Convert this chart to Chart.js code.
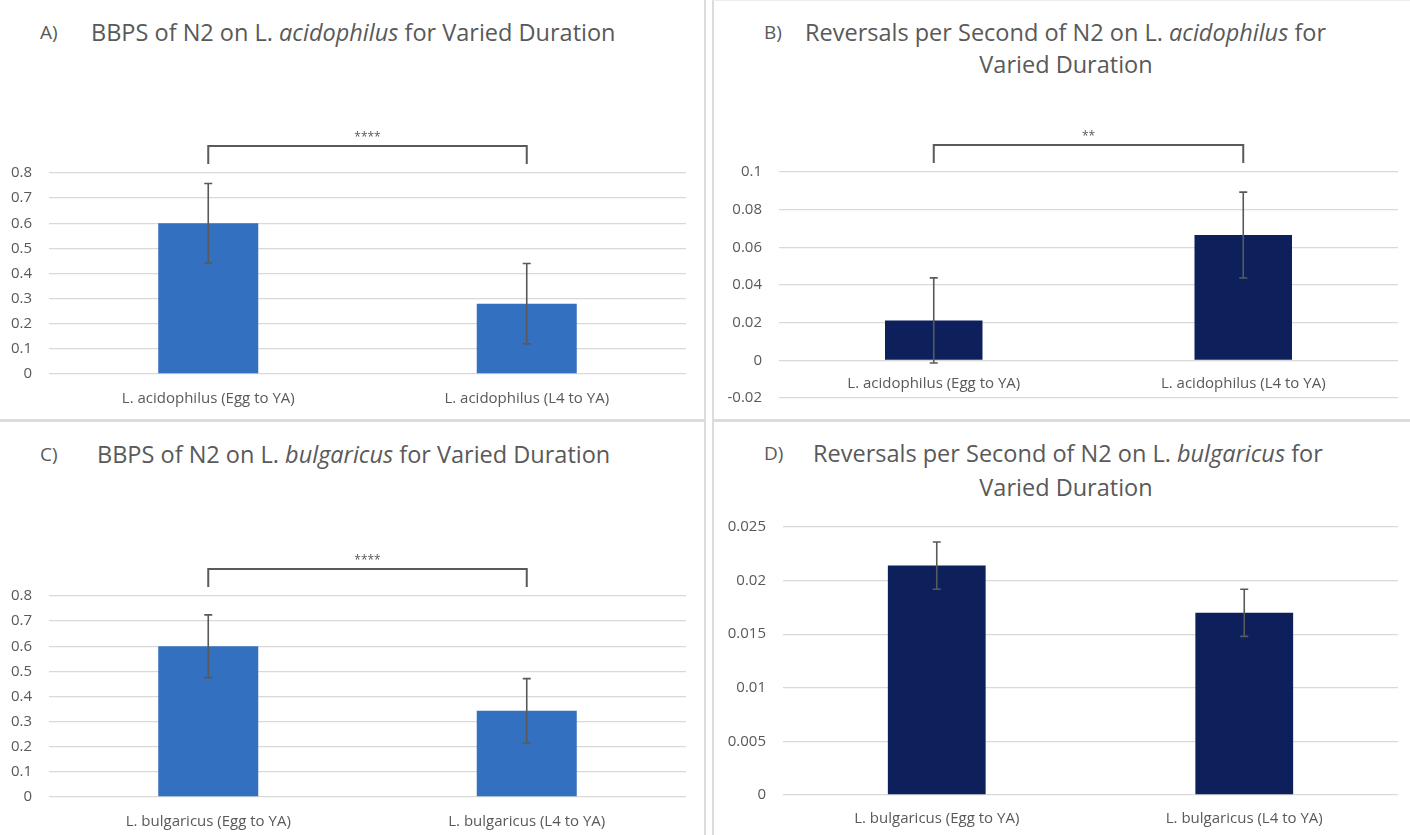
<!DOCTYPE html>
<html>
<head>
<meta charset="utf-8">
<script src="https://cdn.jsdelivr.net/npm/chart.js@4.4.1/dist/chart.umd.min.js"></script>
<style>
  html, body { margin: 0; padding: 0; background: #fff; }
  body { width: 1410px; height: 835px; position: relative; overflow: hidden; font-family: "Open Sans", Lato, sans-serif; }
  .box { position: absolute; }
  .lbl { position: absolute; color: #595959; font-size: 19px; line-height: 24px; white-space: nowrap; transform: translateY(-50%); }
  .ttl { position: absolute; color: #595959; font-size: 23.5px; line-height: 28px; white-space: nowrap; transform: translateY(-50%); }
  .ctr { transform: translate(-50%, -50%); }
  .sep { position: absolute; background: #dcdcdc; }
</style>
</head>
<body>
<!-- panel separators -->
<div class="sep" style="left:704px; top:0; width:2px; height:835px;"></div>
<div class="sep" style="left:712px; top:0; width:2px; height:835px;"></div>
<div class="sep" style="left:0; top:419px; width:705px; height:3px;"></div>
<div class="sep" style="left:713px; top:419px; width:697px; height:3px;"></div>
<div class="sep" style="left:713px; top:0; width:697px; height:1px; background:#ececec;"></div>

<!-- titles -->
<div class="lbl" style="left:40px; top:32px;">A)</div>
<div class="ttl" style="left:91px; top:32px;">BBPS of N2 on L. <i>acidophilus</i> for Varied Duration</div>

<div class="lbl" style="left:764px; top:32px;">B)</div>
<div class="ttl" style="left:805px; top:32px;">Reversals per Second of N2 on L. <i>acidophilus</i> for</div>
<div class="ttl ctr" style="left:1066px; top:64px;">Varied Duration</div>

<div class="lbl" style="left:40px; top:454px;">C)</div>
<div class="ttl" style="left:97px; top:454px;">BBPS of N2 on L. <i>bulgaricus</i> for Varied Duration</div>

<div class="lbl" style="left:764px; top:453px;">D)</div>
<div class="ttl" style="left:813px; top:453px;">Reversals per Second of N2 on L. <i>bulgaricus</i> for</div>
<div class="ttl ctr" style="left:1066px; top:487px;">Varied Duration</div>

<div class="box" style="left:0; top:100px; width:705px; height:315px;"><canvas id="cA"></canvas></div>
<div class="box" style="left:714px; top:100px; width:696px; height:324px;"><canvas id="cB"></canvas></div>
<div class="box" style="left:0; top:520px; width:705px; height:315px;"><canvas id="cC"></canvas></div>
<div class="box" style="left:714px; top:500px; width:696px; height:335px;"><canvas id="cD"></canvas></div>

<script>
// ---------------- DATA ----------------
const categoriesA = ["L. acidophilus (Egg to YA)", "L. acidophilus (L4 to YA)"];
const valuesA = [0.600, 0.280];
const errorsA = [0.158, 0.160];
const ticksA = [0, 0.1, 0.2, 0.3, 0.4, 0.5, 0.6, 0.7, 0.8];
const sigA = "****";

const categoriesB = ["L. acidophilus (Egg to YA)", "L. acidophilus (L4 to YA)"];
const valuesB = [0.0212, 0.0665];
const errorsB = [0.0226, 0.0228];
const ticksB = [-0.02, 0, 0.02, 0.04, 0.06, 0.08, 0.1];
const sigB = "**";

const categoriesC = ["L. bulgaricus (Egg to YA)", "L. bulgaricus (L4 to YA)"];
const valuesC = [0.600, 0.343];
const errorsC = [0.125, 0.128];
const ticksC = [0, 0.1, 0.2, 0.3, 0.4, 0.5, 0.6, 0.7, 0.8];
const sigC = "****";

const categoriesD = ["L. bulgaricus (Egg to YA)", "L. bulgaricus (L4 to YA)"];
const valuesD = [0.0214, 0.0170];
const errorsD = [0.0022, 0.0022];
const ticksD = [0, 0.005, 0.01, 0.015, 0.02, 0.025];

// ---------------- STYLE ----------------
const BLUE = "#3370c0";
const NAVY = "#0d205c";
const GRID = "#d9d9d9";
const TEXT = "#595959";
const ERR = "#595959";
const FONT = "'Open Sans', Lato, sans-serif";

const errorBarPlugin = {
  id: "errorBars",
  afterDatasetsDraw(chart, args, opts) {
    const meta = chart.getDatasetMeta(0);
    const ys = chart.scales.y;
    const ds = chart.data.datasets[0];
    const ctx = chart.ctx;
    ctx.save();
    ctx.strokeStyle = ERR;
    ctx.lineWidth = 1.6;
    meta.data.forEach((bar, i) => {
      const v = ds.data[i], e = opts.errors[i];
      const yt = ys.getPixelForValue(v + e), yb = ys.getPixelForValue(v - e);
      const x = bar.x;
      ctx.beginPath();
      ctx.moveTo(x, yt); ctx.lineTo(x, yb);
      ctx.moveTo(x - 4, yt); ctx.lineTo(x + 4, yt);
      ctx.moveTo(x - 4, yb); ctx.lineTo(x + 4, yb);
      ctx.stroke();
    });
    ctx.restore();
  }
};

const bracketPlugin = {
  id: "bracket",
  afterDraw(chart, args, opts) {
    if (!opts || !opts.label) return;
    const meta = chart.getDatasetMeta(0);
    const ctx = chart.ctx;
    const top = chart.chartArea.top;
    const x1 = meta.data[0].x, x2 = meta.data[1].x;
    const yLine = top - 27, yLeg = top - 9;
    ctx.save();
    ctx.strokeStyle = "#5a5a5a";
    ctx.lineWidth = 2;
    ctx.beginPath();
    ctx.moveTo(x1, yLeg); ctx.lineTo(x1, yLine); ctx.lineTo(x2, yLine); ctx.lineTo(x2, yLeg);
    ctx.stroke();
    ctx.fillStyle = TEXT;
    ctx.font = "12px " + FONT;
    ctx.textAlign = "center";
    ctx.textBaseline = "middle";
    ctx.fillText(opts.label, (x1 + x2) / 2, yLine - 8);
    ctx.restore();
  }
};

function makeChart(id, cfg) {
  const xScale = {
    type: "category",
    offset: true,
    grid: { display: false },
    border: { display: false },
    ticks: { color: TEXT, font: { family: FONT, size: 15 }, padding: cfg.xPad, maxRotation: 0, autoSkip: false },
    afterFit: s => { s.height = cfg.xHeight; }
  };
  xScale.position = cfg.xAtZero ? { y: 0 } : "bottom";
  return new Chart(document.getElementById(id), {
    type: "bar",
    data: {
      labels: cfg.labels,
      datasets: [{ data: cfg.values, backgroundColor: cfg.color, borderWidth: 0,
                   categoryPercentage: 1.0, barPercentage: cfg.barPct }]
    },
    options: {
      responsive: true,
      maintainAspectRatio: false,
      animation: false,
      events: [],
      layout: { padding: { top: cfg.padTop, right: cfg.padRight, bottom: cfg.padBottom, left: 0 } },
      plugins: {
        legend: { display: false },
        tooltip: { enabled: false },
        title: { display: false },
        errorBars: { errors: cfg.errors },
        bracket: { label: cfg.sig || null }
      },
      scales: {
        x: xScale,
        y: {
          min: cfg.ticks[0],
          max: cfg.ticks[cfg.ticks.length - 1],
          afterFit: s => { s.width = cfg.yWidth; },
          afterBuildTicks: s => { s.ticks = cfg.ticks.map(v => ({ value: v })); },
          grid: { color: GRID, lineWidth: 1.3, drawTicks: false },
          border: { display: false },
          ticks: { color: TEXT, font: { family: FONT, size: 15 }, padding: 17,
                   callback: v => String(v) }
        }
      }
    },
    plugins: [errorBarPlugin, bracketPlugin]
  });
}

makeChart("cA", { labels: categoriesA, values: valuesA, errors: errorsA, ticks: ticksA, sig: sigA,
  color: BLUE, barPct: 0.314, yWidth: 49, padTop: 73, padRight: 19, padBottom: 0, xHeight: 41, xPad: 8 });

makeChart("cB", { labels: categoriesB, values: valuesB, errors: errorsB, ticks: ticksB, sig: sigB,
  color: NAVY, barPct: 0.315, yWidth: 65, padTop: 72, padRight: 12, padBottom: 17, xHeight: 0, xAtZero: true, xPad: 6 });

makeChart("cC", { labels: categoriesC, values: valuesC, errors: errorsC, ticks: ticksC, sig: sigC,
  color: BLUE, barPct: 0.314, yWidth: 49, padTop: 76, padRight: 19, padBottom: 0, xHeight: 38, xPad: 8 });

makeChart("cD", { labels: categoriesD, values: valuesD, errors: errorsD, ticks: ticksD, sig: null,
  color: NAVY, barPct: 0.318, yWidth: 69, padTop: 27, padRight: 12, padBottom: 0, xHeight: 40, xPad: 7 });
</script>
</body>
</html>
